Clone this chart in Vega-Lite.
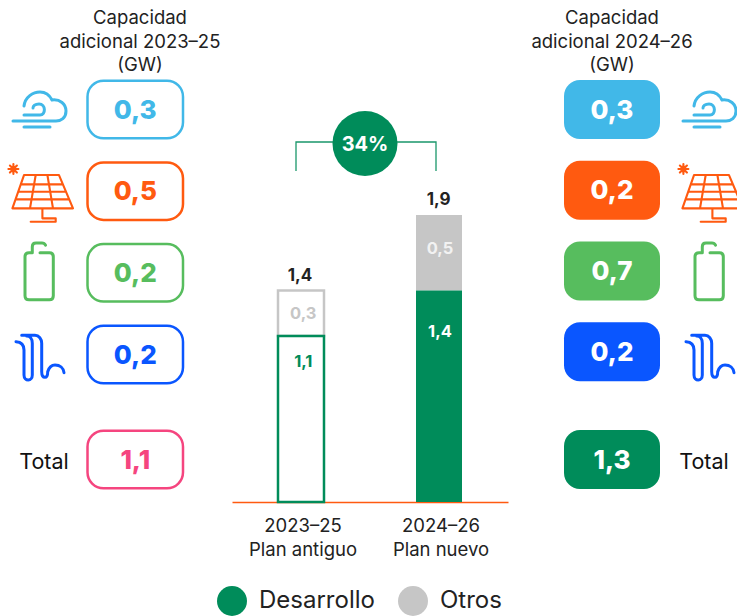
{"$schema":"https://vega.github.io/schema/vega-lite/v6.json","width":737,"height":502,"padding":{"left":0,"top":0,"right":0,"bottom":114},"autosize":"none","background":"white",
"config":{"view":{"stroke":null},"font":"Inter","locale":{"number":{"decimal":",","thousands":".","grouping":[3],"currency":["","€"]}}},
"datasets":{
"capacidad":[
{"periodo":"2023–25","fila":"Eólica","gw":0.3},{"periodo":"2023–25","fila":"Solar","gw":0.5},{"periodo":"2023–25","fila":"Baterías","gw":0.2},{"periodo":"2023–25","fila":"Hidro","gw":0.2},{"periodo":"2023–25","fila":"Total","gw":1.1},
{"periodo":"2024–26","fila":"Eólica","gw":0.3},{"periodo":"2024–26","fila":"Solar","gw":0.2},{"periodo":"2024–26","fila":"Baterías","gw":0.7},{"periodo":"2024–26","fila":"Hidro","gw":0.2},{"periodo":"2024–26","fila":"Total","gw":1.3}],
"encabezados":[{"periodo":"2023–25","bloque":"Encabezado","titulo":"Capacidad\nadicional 2023–25\n(GW)"},{"periodo":"2024–26","bloque":"Encabezado","titulo":"Capacidad\nadicional 2024–26\n(GW)"}],
"barras":[
{"plan":"2023–25 · Plan antiguo","serie":"Otros","gw":0.3,"segmento":"A Otros"},{"plan":"2023–25 · Plan antiguo","serie":"Desarrollo","gw":1.1,"segmento":"A Desarrollo"},
{"plan":"2024–26 · Plan nuevo","serie":"Otros","gw":0.5,"segmento":"B Otros"},{"plan":"2024–26 · Plan nuevo","serie":"Desarrollo","gw":1.4,"segmento":"B Desarrollo"}],
"totales":[{"plan":"2023–25 · Plan antiguo","total":1.4},{"plan":"2024–26 · Plan nuevo","total":1.9}],
"corchete":[{"lado":"A","nivel":"pie","paso":1},{"lado":"A","nivel":"alto","paso":2},{"lado":"B","nivel":"alto","paso":3},{"lado":"B","nivel":"pie","paso":4}],
"crecimiento":[{"etiqueta":"34%"}]
},
"layer":[
{"data":{"name":"encabezados"},
"mark":{"type":"text","font":"Inter","fontSize":18.5,"lineHeight":23.5,"lineBreak":"\n","align":"center","baseline":"middle","color":"#222222"},
"encoding":{"x":{"field":"periodo","type":"nominal","scale":{"type":"point","padding":0,"domain":["2023–25","2024–26"],"range":[140,612]},"axis":null},
"y":{"field":"bloque","type":"nominal","scale":{"type":"point","padding":0,"domain":["Encabezado"],"range":[18,18]},"axis":null},
"text":{"field":"titulo"}}},

{"data":{"name":"capacidad"},"transform":[{"filter":"datum.periodo=='2023–25'"}],
"encoding":{"x":{"field":"periodo","type":"nominal","scale":{"type":"point","padding":0,"domain":["2023–25","2024–26"],"range":[135.25,612]},"axis":null},
"y":{"field":"fila","type":"nominal","scale":{"type":"point","padding":0,"domain":["Eólica","a1","a2","a3","a4","a5","a6","Solar","b1","b2","b3","b4","b5","b6","Baterías","c1","c2","c3","c4","c5","c6","Hidro","d1","d2","d3","d4","d5","d6","d7","d8","Total"],"range":[109.5,459.5]},"axis":null},
"color":{"field":"fila","type":"nominal","scale":{"domain":["Eólica","Solar","Baterías","Hidro","Total"],"range":["#41B8E8","#FF5A10","#57BD5E","#0A56FF","#F5457F"]},"legend":null}},
"layer":[
{"mark":{"type":"rect","filled":false,"width":95.5,"height":57.5,"cornerRadius":16,"strokeWidth":2.5}},
{"mark":{"type":"text","font":"Inter","fontWeight":800,"fontSize":26,"align":"center","baseline":"middle","dy":1},"encoding":{"text":{"field":"gw","type":"quantitative","format":".1f"}}}
]},

{"data":{"name":"capacidad"},"transform":[{"filter":"datum.periodo=='2024–26'"}],
"encoding":{"x":{"field":"periodo","type":"nominal","scale":{"type":"point","padding":0,"domain":["2023–25","2024–26"],"range":[135.25,612]},"axis":null},
"y":{"field":"fila","type":"nominal","scale":{"type":"point","padding":0,"domain":["Eólica","a1","a2","Solar","b1","b2","Baterías","c1","c2","Hidro","d1","d2","d3","Total"],"range":[109.5,459.5]},"axis":null}},
"layer":[
{"mark":{"type":"rect","width":96,"height":59,"cornerRadius":16},"encoding":{"color":{"field":"fila","type":"nominal","scale":{"domain":["Eólica","Solar","Baterías","Hidro","Total"],"range":["#41B8E8","#FF5A10","#57BD5E","#0A56FF","#008C5A"]},"legend":null}}},
{"mark":{"type":"text","font":"Inter","fontWeight":800,"fontSize":26,"align":"center","baseline":"middle","dy":1,"color":"white"},"encoding":{"text":{"field":"gw","type":"quantitative","format":".1f"}}}
]},

{"data":{"name":"capacidad"},"transform":[{"filter":"datum.fila!='Total'"}],
"encoding":{"x":{"field":"periodo","type":"nominal","scale":{"type":"point","padding":0,"domain":["2023–25","2024–26"],"range":[40,710]},"axis":null},
"y":{"field":"fila","type":"nominal","scale":{"type":"point","padding":0,"domain":["Eólica","Solar","Baterías","Hidro"],"range":[110,357]},"axis":null},
"color":{"field":"fila","type":"nominal","scale":{"domain":["Eólica","Solar","Baterías","Hidro"],"range":["#41B8E8","#FF5A10","#57BD5E","#0A56FF"]},"legend":null},
"shape":{"field":"fila","type":"nominal","scale":{"domain":["Eólica","Solar","Baterías","Hidro"],"range":[
"M -16,-4 C -15,-13 -7,-18 0,-18 C 6,-18 10,-14 12,-10 C 20,-11 26,-6 26,1 C 26,8 21,11 16,11 L -27,11 M -16,5 L 0,5 C 6,5 6,-6 -1,-6 C -5,-6 -7,-4 -7,-2 M -16,17 L 10,17",
"M -16,-17.3 L 19,-17.3 L 33,16 L -27.6,16 Z M -19.2,-8 L 22.9,-8 M -21.8,-0.6 L 26,-0.6 M -24.5,7 L 29.2,7 M -4.3,-17.3 L -10,16 M 7.4,-17.3 L 13,16 M 2.4,16 L 2.4,26 L 15.7,26 L 15.7,29.4 L -9.3,29.4 M -26.6,-28.3 L -26.6,-18.3 M -31.6,-23.3 L -21.6,-23.3 M -30.1,-26.8 L -23.1,-19.8 M -30.1,-19.8 L -23.1,-26.8 M -29.6,-23.3 L -26.6,-26.3 L -23.6,-23.3 L -26.6,-20.3 Z M -28.1,-23.3 L -26.6,-24.8 L -25.1,-23.3 L -26.6,-21.8 Z",
"M -7.7,-22 L -11,-22 C -13.5,-22 -15,-20.5 -15,-18 L -15,21 C -15,23.5 -13.5,25 -11,25 L 9.5,25 C 12,25 13.3,23.5 13.3,21 L 13.3,-18 C 13.3,-20.5 12,-22 9.5,-22 L 0,-22 M -7.7,-22 L -7.7,-28 C -7.7,-30.5 -6,-31.7 -4,-31.7 L 2,-31.7 C 4,-31.7 5,-30.5 5.5,-29.5",
"M -24,-15.3 C -19,-15 -16,-12 -16,-7 L -16,18 C -16,21 -14,23 -11.7,23 C -9.5,23 -7.7,21 -7.7,18 L -7.7,-13.7 C -7.7,-18 -10,-21 -13.3,-21 M -18.3,-21.7 L -5,-21.7 C -1,-21.7 1.7,-18 1.7,-13.7 L 1.7,14.7 C 1.7,18 3,20.3 5,20.3 C 7,20.3 7.7,18 7.7,14.7 C 9,10.5 12,8 15,8 C 20,8 23.5,11 24,15.7"
]},"legend":null}},
"layer":[
{"transform":[{"filter":"datum.fila!='Solar'"}],"mark":{"type":"point","filled":false,"size":4,"opacity":1,"strokeWidth":3,"strokeCap":"round","strokeJoin":"round"}},
{"transform":[{"filter":"datum.fila=='Solar'"}],"mark":{"type":"point","filled":false,"size":4,"opacity":1,"strokeWidth":2.1,"strokeCap":"round","strokeJoin":"round"}}
]},

{"data":{"name":"capacidad"},"transform":[{"filter":"datum.fila=='Total'"}],
"mark":{"type":"text","font":"Inter","fontSize":21.5,"align":"center","baseline":"middle","color":"#111111"},
"encoding":{"x":{"field":"periodo","type":"nominal","scale":{"type":"point","padding":0,"domain":["2023–25","2024–26"],"range":[44,704]},"axis":null},
"y":{"field":"fila","type":"nominal","scale":{"type":"point","padding":0,"domain":["Total"],"range":[463,463]},"axis":null},
"text":{"field":"fila"}}},

{"data":{"name":"barras"},"transform":[{"filter":"indexof(datum.plan,'2023')==0"}],
"mark":{"type":"bar","fill":"white","strokeWidth":2.5},
"encoding":{"x":{"field":"plan","type":"nominal","sort":null,"scale":{"type":"band","domain":["2023–25 · Plan antiguo","2024–26 · Plan nuevo"],"range":[232,508],"paddingInner":0.66667,"paddingOuter":0.33333},"axis":null},
"y":{"field":"gw","type":"quantitative","stack":"zero","scale":{"domain":[0,3.3245],"nice":false},"axis":null},
"order":{"field":"serie","sort":"ascending"},
"stroke":{"field":"serie","type":"nominal","scale":{"domain":["Desarrollo","Otros"],"range":["#008C5A","#C6C6C6"]},"legend":null}}},

{"data":{"name":"barras"},"transform":[{"filter":"indexof(datum.plan,'2024')==0"}],
"mark":{"type":"bar"},
"encoding":{"x":{"field":"plan","type":"nominal","title":null,"sort":null,"scale":{"type":"band","domain":["2023–25 · Plan antiguo","2024–26 · Plan nuevo"],"range":[232,508],"paddingInner":0.66667,"paddingOuter":0.33333},
"axis":{"labelExpr":"split(datum.label,' · ')","labelAngle":0,"labelFont":"Inter","labelFontSize":18.5,"labelLineHeight":24.5,"labelColor":"#222222","labelPadding":14,"labelOffset":2,"ticks":false,"grid":false,"domainColor":"#FF5A10","domainWidth":1.5,"labelLimit":0,"labelBaseline":"top"}},
"y":{"field":"gw","type":"quantitative","stack":"zero","scale":{"domain":[0,3.3245],"nice":false},"axis":null},
"order":{"field":"serie","sort":"ascending"},
"color":{"field":"serie","type":"nominal","title":null,"scale":{"domain":["Desarrollo","Otros"],"range":["#008C5A","#C6C6C6"]},
"legend":{"orient":"none","legendX":217,"legendY":586,"direction":"horizontal","columns":2,"symbolType":"circle","symbolSize":900,"symbolStrokeWidth":0,"labelFont":"Inter","labelFontSize":24,"labelColor":"#222222","labelOffset":12,"columnPadding":23,"title":null,"labelLimit":0,"padding":0}}}},

{"data":{"name":"barras"},
"mark":{"type":"text","font":"Inter","fontWeight":700,"fontSize":16.5,"align":"center","baseline":"middle"},
"encoding":{"x":{"field":"plan","type":"nominal","scale":{"type":"point","padding":0,"domain":["2023–25 · Plan antiguo","2024–26 · Plan nuevo"],"range":[303.3,440]},"axis":null},
"y":{"field":"segmento","type":"nominal","scale":{"type":"point","padding":0,"domain":["B Otros","s1","s2","s3","s4","s5","s6","s7","s8","s9","s10","A Otros","t1","t2","B Desarrollo","u1","u2","u3","u4","A Desarrollo"],"range":[249,362]},"axis":null},
"color":{"field":"segmento","type":"nominal","scale":{"domain":["A Otros","A Desarrollo","B Otros","B Desarrollo"],"range":["#C6C6C6","#008C5A","#F2F2F2","#FFFFFF"]},"legend":null},
"text":{"field":"gw","type":"quantitative","format":".1f"}}},

{"data":{"name":"totales"},
"mark":{"type":"text","font":"Inter","fontWeight":700,"fontSize":17,"align":"center","baseline":"middle","dy":-15,"color":"#222222"},
"encoding":{"x":{"field":"plan","type":"nominal","scale":{"type":"point","padding":0,"domain":["2023–25 · Plan antiguo","2024–26 · Plan nuevo"],"range":[300,438.7]},"axis":null},
"y":{"field":"total","type":"quantitative","scale":{"domain":[0,3.3245],"nice":false},"axis":null},
"text":{"field":"total","type":"quantitative","format":".1f"}}},

{"data":{"name":"corchete"},
"mark":{"type":"line","color":"#008C5A","strokeWidth":1.3,"opacity":0.9},
"encoding":{"x":{"field":"lado","type":"nominal","scale":{"type":"point","padding":0,"domain":["A","B"],"range":[296,436]},"axis":null},
"y":{"field":"nivel","type":"nominal","scale":{"type":"point","padding":0,"domain":["alto","pie"],"range":[142,171]},"axis":null},
"order":{"field":"paso","type":"quantitative"}}},

{"data":{"name":"crecimiento"},
"encoding":{"x":{"field":"etiqueta","type":"nominal","scale":{"type":"point","padding":0,"domain":["34%"],"range":[365,365]},"axis":null},
"y":{"field":"etiqueta","type":"nominal","scale":{"type":"point","padding":0,"domain":["34%"],"range":[143.5,143.5]},"axis":null}},
"layer":[
{"mark":{"type":"circle","size":4225,"opacity":1,"color":"#008C5A"}},
{"mark":{"type":"text","font":"Inter","fontWeight":700,"fontSize":20,"align":"center","baseline":"middle","dy":1,"color":"white"},"encoding":{"text":{"field":"etiqueta"}}}
]}
],
"resolve":{"scale":{"x":"independent","y":"independent","color":"independent","fill":"independent","stroke":"independent","shape":"independent"},"axis":{"x":"independent","y":"independent"}}
}
